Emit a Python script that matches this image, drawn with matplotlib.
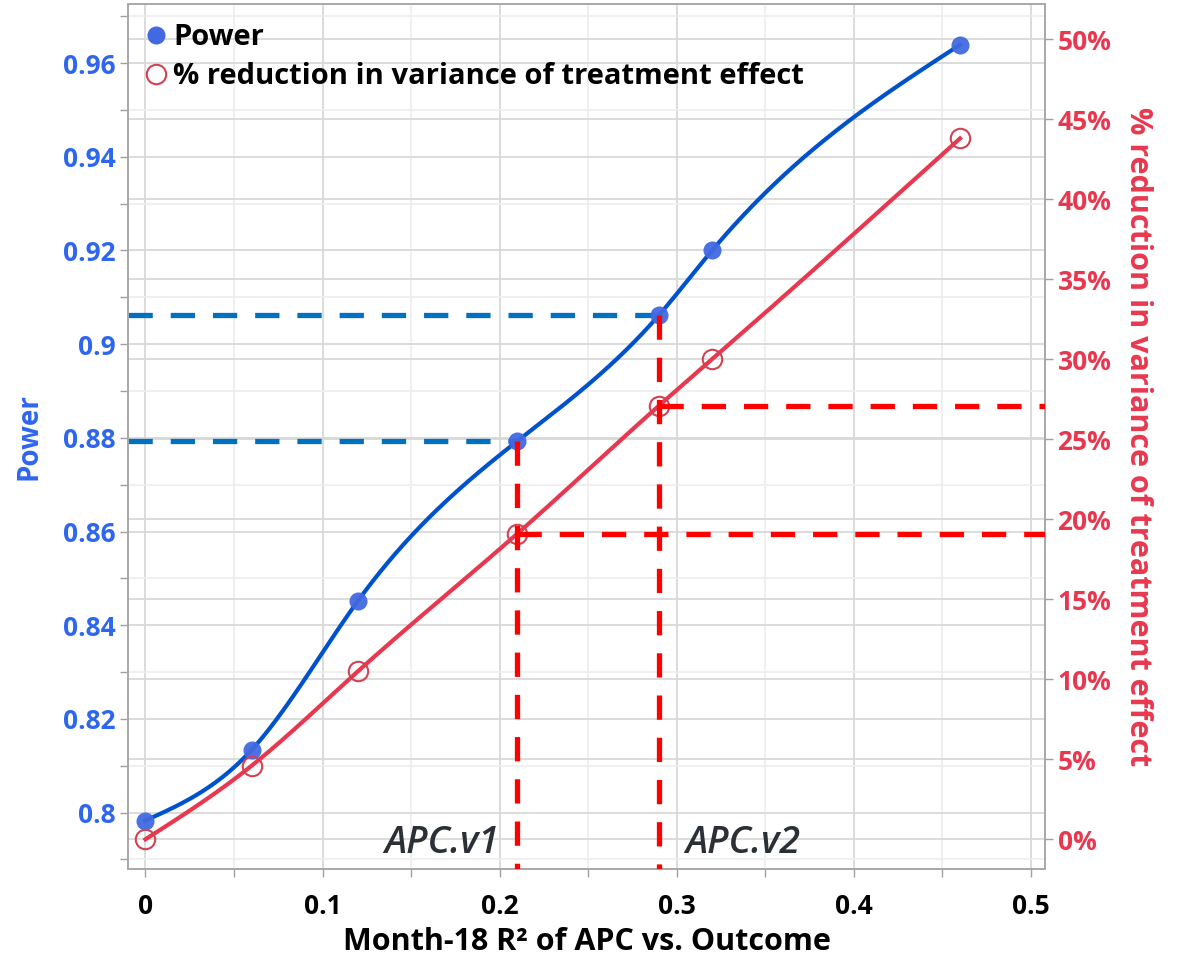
import numpy as np
import matplotlib
matplotlib.use("Agg")
import matplotlib.pyplot as plt
from matplotlib.ticker import MultipleLocator, PercentFormatter
from matplotlib.transforms import blended_transform_factory
from matplotlib.lines import Line2D

plt.rcParams['font.family'] = ['Open Sans', 'DejaVu Sans']
plt.rcParams['font.weight'] = 'bold'
plt.rcParams['axes.labelweight'] = 'bold'

# data
r2 = [0.0, 0.06, 0.12, 0.21, 0.29, 0.32, 0.46]
power = [0.7983, 0.8134, 0.8452, 0.8793, 0.9062, 0.9200, 0.9639]
var_red = [0.0, 4.6, 10.5, 19.1, 27.1, 30.0, 43.8]   # percent
apc_labels = ['APC.v1', 'APC.v2']
apc_idx = [3, 4]

BLUE_LINE = '#0052CC'
BLUE_MARK = '#4169E1'
BLUE_TXT = '#2E66EE'
BLUE_DASH = '#0070C0'
RED_LINE = '#E8384F'
RED_MARK = '#D24253'
RED_DASH = '#FF0000'
GRID = '#D6D6D6'
GRID_MINOR = '#EDEDED'


def natural_spline(x, y, xs):
    # plain natural cubic spline, no scipy needed
    x = np.asarray(x, float)
    y = np.asarray(y, float)
    n = len(x)
    h = np.diff(x)
    A = np.zeros((n, n))
    b = np.zeros(n)
    A[0, 0] = A[-1, -1] = 1
    for i in range(1, n - 1):
        A[i, i - 1] = h[i - 1]
        A[i, i] = 2 * (h[i - 1] + h[i])
        A[i, i + 1] = h[i]
        b[i] = 3 * ((y[i + 1] - y[i]) / h[i] - (y[i] - y[i - 1]) / h[i - 1])
    c = np.linalg.solve(A, b)
    out = np.empty_like(xs)
    for k, xv in enumerate(xs):
        i = min(max(np.searchsorted(x, xv) - 1, 0), n - 2)
        bb = (y[i + 1] - y[i]) / h[i] - h[i] * (2 * c[i] + c[i + 1]) / 3
        d = (c[i + 1] - c[i]) / (3 * h[i])
        t = xv - x[i]
        out[k] = y[i] + bb * t + c[i] * t ** 2 + d * t ** 3
    return out


fig = plt.figure(figsize=(11.8, 9.63), dpi=100)
ax = fig.add_axes([0.1087, 0.0973, 0.7769, 0.8985])
ax2 = ax.twinx()

ax.set_xlim(-0.0097, 0.508)
ax.set_ylim(0.7879, 0.9726)
ax2.set_ylim(-1.875, 52.2)

# grids
ax.set_axisbelow(True)
ax.xaxis.set_major_locator(MultipleLocator(0.1))
ax.xaxis.set_minor_locator(MultipleLocator(0.05))
ax.yaxis.set_major_locator(MultipleLocator(0.02))
ax.yaxis.set_minor_locator(MultipleLocator(0.01))
ax2.yaxis.set_major_locator(MultipleLocator(5))
ax.grid(which='major', color=GRID, lw=1.2)
ax.grid(which='minor', color=GRID_MINOR, lw=1.2)
# right-axis grid drawn on the lower axes so it stays under the curves
btr = blended_transform_factory(ax.transAxes, ax2.transData)
for t in np.arange(0, 51, 5):
    ax.plot([0, 1], [t, t], transform=btr, color=GRID, lw=1.2, zorder=0.6)

xs = np.linspace(r2[0], r2[-1], 400)

# power curve
ax.plot(xs, natural_spline(r2, power, xs), color=BLUE_LINE, lw=3.0, zorder=3)
ax.plot(r2, power, 'o', color=BLUE_MARK, ms=13, alpha=0.95, mec='none', zorder=4)

# variance reduction curve
ax2.plot(xs, natural_spline(r2, var_red, xs), color=RED_LINE, lw=3.0, zorder=3)
ax2.plot(r2, var_red, 'o', mfc='none', mec=RED_MARK, ms=14, mew=1.5, zorder=4)

# reference dashes for APC versions
dash = (0, (4.6, 3.4))
x_lo, x_hi = ax.get_xlim()
y_lo = ax.get_ylim()[0]
for i in apc_idx:
    ax.plot([x_lo, r2[i]], [power[i], power[i]], color=BLUE_DASH, lw=3.8,
            linestyle=dash, zorder=2.5)
    ax2.plot([r2[i], x_hi], [var_red[i], var_red[i]], color=RED_DASH, lw=3.8,
             linestyle=dash, zorder=5)
    ax2.plot([r2[i], r2[i]], [power[i], y_lo], color=RED_DASH, lw=3.8,
             linestyle=dash, transform=ax.transData, zorder=5)

# APC labels
ax.text(r2[apc_idx[0]] - 0.01, 0.7935, apc_labels[0], ha='right', va='center',
        fontsize=27, style='italic', weight='semibold', color='#2B2F36')
ax.text(r2[apc_idx[1]] + 0.015, 0.7935, apc_labels[1], ha='left', va='center',
        fontsize=27, style='italic', weight='semibold', color='#2B2F36')

# ticks and labels
for a in (ax, ax2):
    for s in a.spines.values():
        s.set_color('#A8A8A8')
        s.set_linewidth(1.2)
ax.tick_params(axis='y', which='both', length=6, width=1, color='#A0A0A0',
               labelsize=19, labelcolor=BLUE_TXT, pad=3)
ax.tick_params(axis='x', which='both', length=6, width=1, color='#A0A0A0',
               labelsize=19, labelcolor='black', pad=11)
ax2.tick_params(axis='y', which='both', length=6, width=1, color='#A0A0A0',
                labelsize=19, labelcolor=RED_LINE, pad=3)
ax.yaxis.set_major_formatter(lambda v, p: f'{v:g}')
ax.xaxis.set_major_formatter(lambda v, p: f'{v:g}')
ax2.yaxis.set_major_formatter(PercentFormatter(decimals=0))

ax.set_xlabel('Month-18 R² of APC vs. Outcome', fontsize=22, labelpad=5)
ax.set_ylabel('Power', fontsize=20, color=BLUE_TXT, labelpad=14)
ax2.set_ylabel('% reduction in variance of treatment effect', fontsize=22,
               color=RED_LINE, rotation=270, labelpad=30)

handles = [
    Line2D([], [], ls='none', marker='o', color=BLUE_MARK, ms=13, mec='none'),
    Line2D([], [], ls='none', marker='o', mfc='none', mec=RED_MARK, ms=14, mew=1.5),
]
leg = ax2.legend(handles, ['Power', '% reduction in variance of treatment effect'],
                 loc='upper left', bbox_to_anchor=(0.0, 1.0), frameon=False,
                 fontsize=21, handlelength=0.6, handletextpad=0.3,
                 labelspacing=0.35, borderaxespad=0.25)

fig.savefig('out.png', dpi=100)
